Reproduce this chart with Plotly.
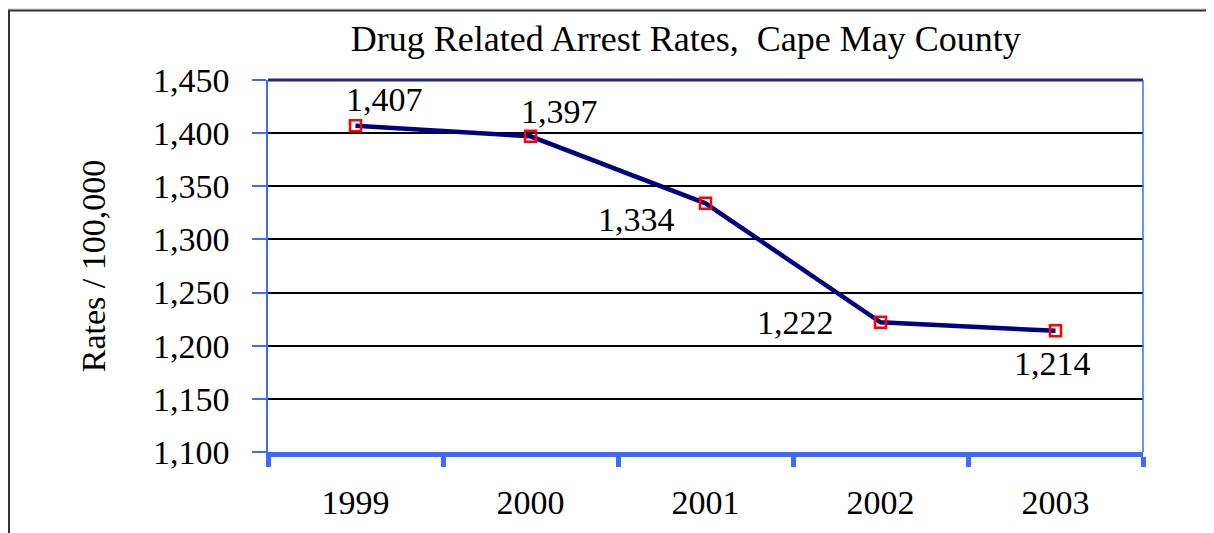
import plotly.graph_objects as go

years = ["1999", "2000", "2001", "2002", "2003"]
rates = [1407, 1397, 1334, 1222, 1214]
# label offsets in px (right, up) from each point
label_shift = [(29, 26), (29, 25), (-69, -16), (-85, 0), (-3, -33)]

y_ticks = [1100, 1150, 1200, 1250, 1300, 1350, 1400, 1450]

BLUE = "#3D6BFF"
NAVY = "#000080"
SERIF = "Liberation Serif, Times New Roman, serif"

fig = go.Figure()
fig.add_trace(
    go.Scatter(
        x=years,
        y=rates,
        mode="lines+markers",
        line={"color": NAVY, "width": 4.5},
        marker={"symbol": "square-open", "size": 11, "color": "red", "line": {"color": "red", "width": 2.5}},
        hoverinfo="skip",
    )
)

for i, (rate, (dx, dy)) in enumerate(zip(rates, label_shift)):
    fig.add_annotation(
        x=i, y=rate, text=f"{rate:,}", showarrow=False,
        xshift=dx, yshift=dy, font={"family": SERIF, "size": 34, "color": "black"},
    )

# chart frame (left/top edges visible)
fig.add_shape(type="rect", xref="paper", yref="paper", x0=-0.296, x1=1.3, y0=-0.4, y1=1.187,
              fillcolor="white", line={"color": "#333333", "width": 2}, layer="below")
# top border of plot area
fig.add_shape(type="line", xref="paper", yref="paper", x0=0, x1=1, y0=1, y1=1,
              line={"color": "#1F2A80", "width": 3})
# right border
fig.add_shape(type="line", xref="paper", yref="paper", x0=1, x1=1, y0=0, y1=1,
              line={"color": BLUE, "width": 1.5})

fig.update_layout(
    width=1206,
    height=525,
    margin={"l": 260, "r": 71, "t": 72, "b": 78},
    paper_bgcolor="#E6E6E6",
    plot_bgcolor="white",
    showlegend=False,
    font={"family": SERIF, "color": "black", "size": 34},
    title={"text": "Drug Related Arrest Rates,  Cape May County", "x": 0.562, "xanchor": "center",
           "y": 0.942, "yanchor": "middle", "font": {"family": SERIF, "size": 36, "color": "black"}},
)
fig.update_xaxes(
    type="category",
    tickson="boundaries",
    ticks="outside",
    ticklen=10,
    tickwidth=5,
    tickcolor=BLUE,
    showline=True,
    linecolor=BLUE,
    linewidth=5,
    showgrid=False,
    tickfont={"family": SERIF, "size": 34},
    ticklabelstandoff=16,
    range=[-0.5, 4.5],
)
fig.update_yaxes(
    range=[1100, 1450],
    tickvals=y_ticks,
    tickformat=",",
    ticks="outside",
    ticklen=14,
    tickcolor=BLUE,
    tickwidth=1.5,
    showline=True,
    linecolor=BLUE,
    linewidth=1.5,
    gridcolor="black",
    gridwidth=2,
    zeroline=False,
    tickfont={"family": SERIF, "size": 34},
    ticklabelstandoff=16,
    title={"text": "Rates / 100,000", "font": {"family": SERIF, "size": 34}, "standoff": 37},
)

fig.write_html("out.html")
